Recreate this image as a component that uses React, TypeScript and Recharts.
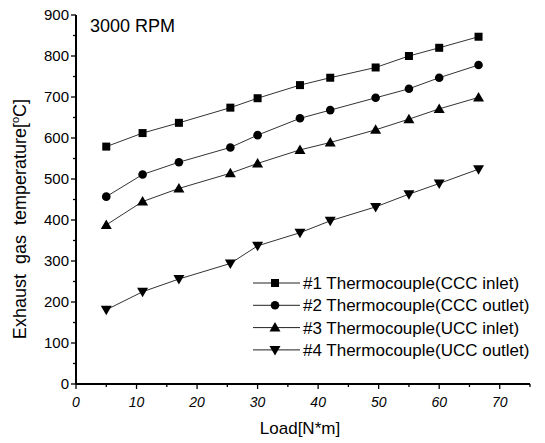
import React from "react";
import { LineChart, Line, XAxis, YAxis } from "recharts";

const loads = [5, 11, 17, 25.5, 30, 37, 42, 49.5, 55, 60, 66.5];
const cccInlet = [579, 612, 637, 674, 697, 729, 747, 772, 800, 820, 847];
const cccOutlet = [457, 511, 541, 577, 607, 648, 668, 698, 720, 747, 778];
const uccInlet = [388, 445, 477, 514, 538, 571, 589, 620, 646, 671, 699];
const uccOutlet = [181, 225, 256, 294, 337, 369, 398, 432, 463, 489, 524];

const seriesNames = [
  "#1 Thermocouple(CCC inlet)",
  "#2 Thermocouple(CCC outlet)",
  "#3 Thermocouple(UCC inlet)",
  "#4 Thermocouple(UCC outlet)",
];
const seriesKeys = ["s1", "s2", "s3", "s4"];
const shapes = ["square", "circle", "up", "down"];

const yTicks = [0, 50, 100, 150, 200, 250, 300, 350, 400, 450, 500, 550, 600, 650, 700, 750, 800, 850, 900];
const xTicks = [0, 5, 10, 15, 20, 25, 30, 35, 40, 45, 50, 55, 60, 65, 70, 75];

const data = loads.map((l, i) => ({
  load: l,
  s1: cccInlet[i],
  s2: cccOutlet[i],
  s3: uccInlet[i],
  s4: uccOutlet[i],
}));

const FONT = "'Liberation Sans', Arial, sans-serif";

function Marker({ shape, cx, cy }: { shape: string; cx: number; cy: number }) {
  if (shape === "square") return <rect x={cx - 4} y={cy - 4} width={8} height={8} fill="#000" />;
  if (shape === "circle") return <circle cx={cx} cy={cy} r={4.3} fill="#000" />;
  if (shape === "up")
    return <polygon points={`${cx - 5.5},${cy + 4} ${cx + 5.5},${cy + 4} ${cx},${cy - 5.5}`} fill="#000" />;
  return <polygon points={`${cx - 5.5},${cy - 4} ${cx + 5.5},${cy - 4} ${cx},${cy + 5.5}`} fill="#000" />;
}

// eslint-disable-next-line @typescript-eslint/no-explicit-any
const makeDot = (shape: string) => (props: any) => {
  const { cx, cy, index } = props;
  return <Marker key={index} shape={shape} cx={cx} cy={cy} />;
};

// eslint-disable-next-line @typescript-eslint/no-explicit-any
function YTick({ x, y, payload }: any) {
  const v = payload.value;
  const major = v % 100 === 0;
  return (
    <g>
      <line x1={x} x2={x - (major ? 5 : 3)} y1={y} y2={y} stroke="#000" strokeWidth={1.3} />
      {major && (
        <text x={x - 7} y={y + 5} textAnchor="end" fontSize={15} fontFamily={FONT} fill="#000">
          {v}
        </text>
      )}
    </g>
  );
}

// eslint-disable-next-line @typescript-eslint/no-explicit-any
function XTick({ x, y, payload }: any) {
  const v = payload.value;
  const major = v % 10 === 0;
  return (
    <g>
      <line x1={x} x2={x} y1={y} y2={y + (major ? 5 : 3)} stroke="#000" strokeWidth={1.3} />
      {major && (
        <text x={x} y={y + 23} textAnchor="middle" fontSize={14} fontStyle="italic" fontFamily={FONT} fill="#000">
          {v}
        </text>
      )}
    </g>
  );
}

function LegendBox() {
  return (
    <g>
      {seriesNames.map((name, i) => {
        const y = 283 + i * 22.3;
        return (
          <g key={name}>
            <line x1={253} x2={300} y1={y} y2={y} stroke="#222" strokeWidth={1} />
            <Marker shape={shapes[i]} cx={275} cy={y} />
            <text x={303} y={y + 6} fontSize={17} fontFamily={FONT} fill="#000">
              {name}
            </text>
          </g>
        );
      })}
    </g>
  );
}

export default function App() {
  return (
    <div style={{ position: "absolute", left: 0, top: 0, width: 545, height: 443, background: "#fff" }}>
      <LineChart width={545} height={443} data={data} margin={{ top: 15, right: 15, bottom: 0, left: 0 }}>
        <XAxis
          dataKey="load"
          type="number"
          domain={[0, 75]}
          ticks={xTicks}
          interval={0}
          tickSize={0}
          tickMargin={0}
          tick={<XTick />}
          axisLine={{ stroke: "#000", strokeWidth: 2 }}
          height={59}
        />
        <YAxis
          type="number"
          domain={[0, 900]}
          ticks={yTicks}
          interval={0}
          tickSize={0}
          tickMargin={0}
          tick={<YTick />}
          axisLine={{ stroke: "#000", strokeWidth: 2 }}
          width={76}
        />
        {seriesKeys.map((k, i) => (
          <Line
            key={k}
            dataKey={k}
            name={seriesNames[i]}
            stroke="#333"
            strokeWidth={1}
            dot={makeDot(shapes[i])}
            activeDot={false}
            isAnimationActive={false}
          />
        ))}
        <text x={90} y={32} fontSize={18} fontFamily={FONT} fill="#000">
          3000 RPM
        </text>
        <text x={300} y={434} textAnchor="middle" fontSize={17} fontFamily={FONT} fill="#000">
          Load[N*m]
        </text>
        <text
          transform="translate(26, 219) rotate(-90)"
          textAnchor="middle"
          fontSize={18}
          fontFamily={FONT}
          fill="#000"
          style={{ whiteSpace: "pre" }}
        >
          {"Exhaust  gas  temperature["}
          <tspan dy={-7} fontSize={11}>o</tspan>
          <tspan dy={7}>C]</tspan>
        </text>
        <LegendBox />
      </LineChart>
    </div>
  );
}
